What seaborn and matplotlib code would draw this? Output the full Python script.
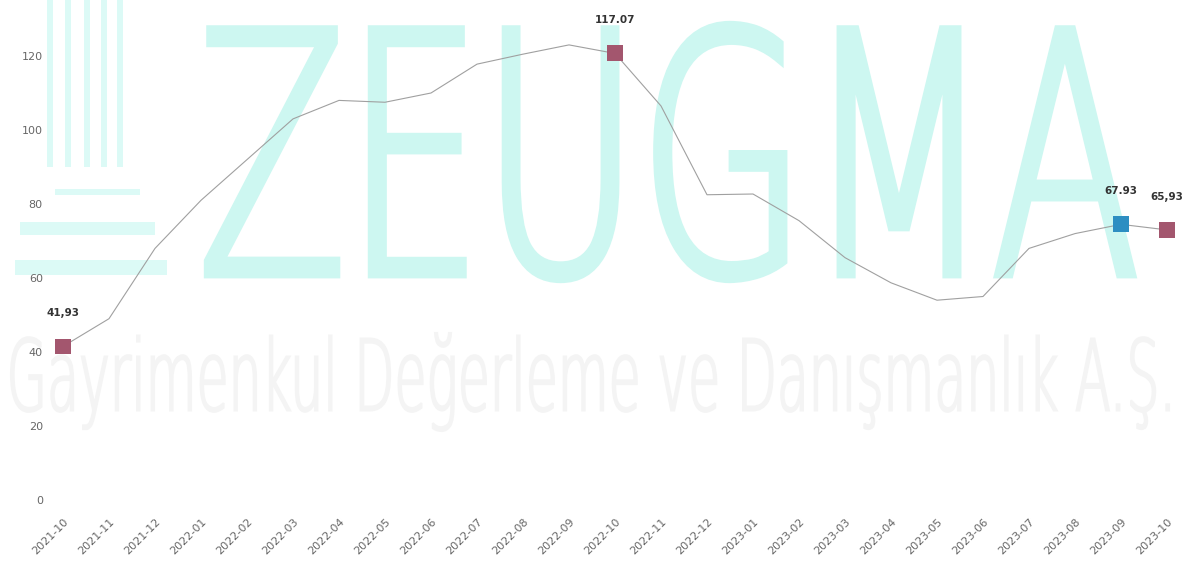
import numpy as np
import pandas as pd
import matplotlib
matplotlib.use("Agg")
import matplotlib.pyplot as plt
import seaborn as sns
from matplotlib.textpath import TextPath
from matplotlib.patches import PathPatch, Rectangle
from matplotlib.font_manager import FontProperties
from matplotlib.transforms import Affine2D

months = ["2021-10", "2021-11", "2021-12", "2022-01", "2022-02", "2022-03", "2022-04",
          "2022-05", "2022-06", "2022-07", "2022-08", "2022-09", "2022-10", "2022-11",
          "2022-12", "2023-01", "2023-02", "2023-03", "2023-04", "2023-05", "2023-06",
          "2023-07", "2023-08", "2023-09", "2023-10"]
values = [41.5, 49, 68, 81, 92, 103, 108, 107.5, 110, 117.8, 120.5, 123, 120.7, 106.5,
          82.5, 82.7, 75.5, 65.5, 58.7, 54, 55, 68, 72, 74.5, 73]

mark_idx = [0, 12, 23, 24]
mark_labels = ["41,93", "117.07", "67.93", "65,93"]
mark_kind = ["a", "a", "b", "a"]

df = pd.DataFrame({"x": np.arange(len(months)), "value": values})
marks = pd.DataFrame({"x": mark_idx, "value": [values[i] for i in mark_idx],
                      "kind": mark_kind, "label": mark_labels})

sns.set_theme(style="white")
plt.rcParams["font.family"] = ["DejaVu Sans"]

W, H = 1193, 571
fig = plt.figure(figsize=(W / 100, H / 100), dpi=100)
fig.patch.set_facecolor("white")

# watermark layer in pixel coords
bg = fig.add_axes([0, 0, 1, 1])
bg.set_xlim(0, W)
bg.set_ylim(H, 0)
bg.axis("off")


def fit_text(ax, s, x0, y0, x1, y1, color, lw=0):
    tp = TextPath((0, 0), s, size=100, prop=FontProperties(family="DejaVu Sans", weight="ultralight"))
    ext = tp.get_extents()
    sx = (x1 - x0) / ext.width
    sy = (y1 - y0) / ext.height
    tr = Affine2D().translate(-ext.x0, -ext.y1).scale(sx, -sy).translate(x0, y0)
    ax.add_patch(PathPatch(tr.transform_path(tp), facecolor=color, edgecolor=color,
                           lw=lw, joinstyle="miter"))


wm = "#cdf7f1"
fit_text(bg, "ZEUGMA", 208, 25, 1132, 279, wm, lw=6)
fit_text(bg, "Gayrimenkul Değerleme ve Danışmanlık A.Ş.", 11, 333, 1169, 431, "#f4f4f4", lw=1.5)
logo = "#dcfaf6"
for xv in [50, 68, 87, 104, 120]:
    bg.add_patch(Rectangle((xv - 3, 0), 6, 167, color=logo, lw=0))
bg.add_patch(Rectangle((55, 189), 85, 6, color=logo, lw=0))
bg.add_patch(Rectangle((20, 222), 135, 13, color=logo, lw=0))
bg.add_patch(Rectangle((15, 260), 152, 15, color=logo, lw=0))

ax = fig.add_axes([40 / W, 71 / H, 1150 / W, 481 / H])
ax.set_facecolor("none")
sns.lineplot(data=df, x="x", y="value", ax=ax, color="#a0a0a0", linewidth=0.8)
sns.scatterplot(data=marks, x="x", y="value", hue="kind", ax=ax, marker="s", s=130,
                palette={"a": "#a3566e", "b": "#2d8ec2"}, edgecolor="none",
                legend=False, zorder=5)
for _, r in marks.iterrows():
    ax.annotate(r["label"], (r["x"], r["value"]), xytext=(0, 24), textcoords="offset points",
                ha="center", va="center", fontsize=7.5, fontweight="bold", color="#333333")

ax.set_xlim(-0.5, len(months) - 0.5)
ax.set_ylim(0, 130)
ax.set_yticks([0, 20, 40, 60, 80, 100, 120])
ax.set_xticks(np.arange(len(months)))
ax.set_xticklabels(months, rotation=45, ha="right", rotation_mode="anchor")
ax.tick_params(axis="both", length=0, labelsize=8, colors="#666666")
ax.tick_params(axis="y", pad=-2)
ax.tick_params(axis="x", pad=12)
ax.set_xlabel("")
ax.set_ylabel("")
sns.despine(ax=ax, left=True, bottom=True)

fig.savefig("out.png", dpi=100)
